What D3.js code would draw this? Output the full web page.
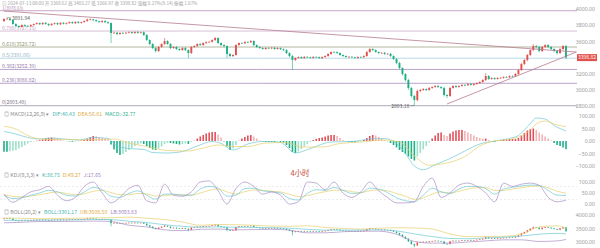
<!DOCTYPE html>
<html>
<head>
<meta charset="utf-8">
<script src="https://cdn.jsdelivr.net/npm/d3@7"></script>
<style>
  body { margin: 0; background: #fff; }
  svg { display: block; font-family: "Noto Sans CJK SC", "Noto Sans", sans-serif; }
</style>
</head>
<body>
<script>
// 4h candles, close prices (open = previous close)
const firstOpen = 3850;
const closes = [
  3876, 3880, 3864, 3814, 3789, 3777, 3802, 3791, 3786, 3802,
  3814, 3826, 3812, 3828, 3815, 3800, 3816, 3826, 3811, 3829,
  3817, 3826, 3839, 3824, 3841, 3828, 3838, 3851, 3870, 3872,
  3862, 3849, 3838, 3852, 3837, 3826, 3703, 3708, 3690, 3704,
  3699, 3707, 3715, 3702, 3717, 3705, 3713, 3678, 3616, 3567,
  3517, 3480, 3530, 3567, 3604, 3567, 3517, 3530, 3505, 3492,
  3517, 3492, 3455, 3530, 3542, 3567, 3554, 3579, 3590, 3594,
  3616, 3641, 3579, 3554, 3542, 3443, 3418, 3431, 3554, 3579,
  3576, 3592, 3589, 3604, 3554, 3530, 3517, 3505, 3518, 3512,
  3520, 3505, 3517, 3503, 3492, 3455, 3418, 3369, 3394, 3406,
  3392, 3408, 3403, 3394, 3407, 3404, 3392, 3406, 3418, 3443,
  3468, 3466, 3455, 3431, 3418, 3406, 3409, 3403, 3394, 3406,
  3404, 3418, 3468, 3505, 3492, 3468, 3455, 3458, 3443, 3446,
  3418, 3381, 3332, 3270, 3196, 3121, 3023, 2924, 2874, 2985,
  2998, 3010, 2998, 3023, 3035, 3047, 3035, 3023, 2936, 2924,
  3023, 3047, 3035, 3047, 3060, 3057, 3072, 3060, 3072, 3084,
  3097, 3121, 3171, 3134, 3146, 3134, 3146, 3149, 3159, 3156,
  3171, 3168, 3196, 3245, 3319, 3369, 3431, 3492, 3542, 3530,
  3480, 3530, 3554, 3530, 3505, 3480, 3455, 3505, 3542, 3398.82
];
const upWick = [
  8, 11.94, 10, 12, 9, 14, 8, 10, 12, 9,
  7, 10, 8, 9, 11, 8, 10, 7, 9, 8,
  10, 8, 7, 9, 6, 10, 8, 9, 10, 12,
  8, 9, 7, 10, 8, 9, 8, 14, 10, 9,
  12, 8, 10, 9, 7, 11, 8, 10, 12, 9,
  14, 10, 12, 9, 37, 10, 12, 9, 11, 8,
  10, 12, 9, 14, 10, 8, 11, 9, 10, 12,
  9, 12, 10, 8, 12, 9, 14, 10, 12, 9,
  8, 10, 9, 12, 10, 8, 9, 10, 8, 9,
  8, 10, 9, 7, 10, 12, 10, 14, 10, 9,
  8, 10, 9, 8, 10, 7, 9, 8, 10, 12,
  9, 10, 8, 10, 9, 8, 10, 9, 8, 10,
  9, 10, 12, 12, 9, 10, 8, 9, 10, 8,
  9, 10, 12, 14, 10, 12, 16, 14, 12, 20,
  14, 12, 10, 12, 10, 14, 12, 10, 12, 10,
  14, 12, 10, 9, 12, 10, 9, 12, 10, 9,
  10, 12, 37, 12, 10, 9, 12, 10, 8, 10,
  9, 10, 12, 14, 16, 12, 14, 12, 25, 14,
  12, 14, 12, 10, 12, 9, 10, 12, 12, 14
];
const downWick = [
  10, 9, 12, 10, 14, 9, 10, 8, 12, 9,
  10, 8, 11, 9, 10, 12, 8, 10, 9, 11,
  8, 10, 9, 8, 10, 9, 11, 8, 9, 10,
  12, 9, 10, 8, 11, 10, 124, 12, 14, 10,
  9, 12, 8, 10, 9, 12, 10, 14, 12, 16,
  14, 18, 12, 10, 14, 12, 16, 10, 14, 12,
  10, 12, 61, 12, 10, 12, 9, 10, 12, 9,
  10, 12, 14, 12, 16, 49, 14, 12, 10, 9,
  10, 8, 12, 10, 14, 12, 10, 9, 10, 8,
  9, 10, 8, 10, 12, 14, 16, 124, 12, 10,
  9, 8, 10, 9, 8, 10, 9, 8, 10, 9,
  10, 9, 12, 10, 9, 10, 8, 9, 10, 8,
  9, 10, 8, 10, 12, 9, 10, 8, 10, 9,
  12, 14, 16, 18, 20, 18, 24, 20, 70.82, 16,
  14, 12, 14, 10, 12, 10, 12, 14, 18, 25,
  12, 10, 12, 10, 9, 12, 10, 9, 10, 12,
  10, 12, 14, 12, 10, 12, 9, 10, 12, 9,
  10, 12, 10, 14, 12, 14, 16, 14, 12, 18,
  16, 14, 12, 14, 16, 14, 18, 12, 14, 16
];

// fibonacci retracement drawn on the chart
const fibRatios = [1, 0.786, 0.618, 0.5, 0.382, 0.236, 0];
const fibPrices = [3978.63, 3727.15, 3529.72, 3391.06, 3252.39, 3080.82, 2803.48];
// trend lines: [candle index, price]
const trendDown = [[0, 3975], [192.5, 3468]];
const trendUp = [[149, 2825], [192.5, 3468]];

// MACD(12,26,9)
const macdHist = [
  -43, -43, -41, -39, -36, -30, -24, -17, -10, -4,
  -1, 1, 3, 6, 10, 13, 14, 13, 10, 6,
  2, -1, -2, -3, -2, 0.5, 2, 4, 9, 15,
  20, 19, 16, 13, 10, 6, -14, -34, -48, -56,
  -52, -44, -36, -28, -20, -14, -10, -12, -20, -28,
  -34, -36, -30, -22, -12, -8, -8, -10, -12, -14,
  -12, -10, -12, -4, 2, 10, 18, 24, 30, 34,
  36, 36, 26, 14, -4, -22, -36, -30, -16, 2,
  10, 16, 22, 24, 18, 10, 2, -2, -4, -4,
  -4, -4, -3, -4, -6, -16, -28, -44, -48, -42,
  -32, -22, -12, -4, 4, 8, 12, 14, 18, 22,
  24, 24, 20, 12, 4, -2, -4, -5, -5, -4,
  -2, 4, 12, 20, 24, 22, 16, 10, 4, -2,
  -8, -16, -26, -36, -44, -52, -62, -72, -78, -62,
  -48, -34, -20, -6, 10, 22, 32, 34, 24, 20,
  30, 38, 42, 44, 44, 40, 34, 28, 22, 16,
  12, 10, 10, 4, -2, -4, 2, 4, 6, 6,
  8, 8, 8, 12, 22, 32, 42, 48, 50, 44,
  34, 26, 18, 10, 2, -8, -16, -20, -26, -32.77
];
const difPts = [[0, 38], [4, 28], [8, 14], [12, 8], [16, 12], [20, 8], [25, 4], [30, 14], [35, 10], [38, -20],
  [42, -30], [47, -34], [50, -46], [55, -48], [60, -42], [65, -20], [70, -2], [73, -10], [77, -36], [82, -12],
  [87, -2], [93, -6], [98, -48], [103, -30], [110, -4], [117, -2], [123, 8], [128, 10], [132, -10], [135, -50],
  [138, -100], [141, -115], [145, -95], [150, -70], [155, -40], [160, -12], [165, 0], [170, 10], [173, 22],
  [177, 70], [179, 92], [182, 88], [185, 62], [189, 40.43]];
const deaPts = [[0, 59], [4, 48], [8, 22], [12, 8], [16, 6], [20, 7], [25, 4], [32, 6], [37, 8], [42, -8],
  [48, -22], [55, -38], [62, -40], [67, -28], [72, -16], [77, -22], [82, -22], [88, -8], [95, -6], [100, -24],
  [107, -24], [113, -10], [120, -4], [128, 4], [133, -4], [138, -60], [143, -97], [148, -90], [150, -85],
  [155, -62], [160, -20], [165, 0], [170, 6], [177, 44], [179, 68], [182, 80], [185, 68], [189, 56.81]];

// KDJ(9,3,3), one value every 3 candles
const kdjStep = 3;
const kValues = [40, 25, 28, 40, 50, 62, 55, 40, 36, 55, 75, 65, 35, 30, 48, 60, 40, 22, 45, 45, 40, 40,
  68, 80, 72, 35, 40, 70, 72, 60, 55, 50, 25, 18, 48, 65, 62, 75, 62, 48, 50, 72, 68, 52, 28, 15, 10,
  40, 72, 55, 48, 68, 80, 80, 70, 45, 68, 76, 82, 86, 84, 62, 40, 38.75];
const dValues = [42, 35, 32, 36, 42, 50, 54, 48, 42, 46, 58, 62, 52, 42, 42, 48, 46, 36, 38, 42, 42, 40,
  50, 62, 68, 55, 46, 56, 64, 62, 58, 55, 44, 34, 38, 48, 56, 62, 63, 56, 52, 60, 64, 60, 48, 35, 22,
  28, 45, 55, 50, 58, 68, 74, 74, 62, 62, 68, 74, 80, 82, 74, 58, 49.27];
const jValues = [45, 8, 30, 55, 65, 80, 40, 15, 30, 80, 100, 50, 5, 30, 70, 85, 15, 5, 90, 40, 35, 55,
  100, 105, 60, 0, 70, 100, 80, 45, 55, 40, 0, 10, 100, 95, 65, 100, 50, 30, 55, 100, 60, 30, 5, 5, 10,
  80, 118, 30, 50, 86, 95, 80, 50, 10, 95, 80, 90, 95, 85, 30, 10, 17.65];

// BOLL(20,2), one value every 6 candles (last one is the final candle)
const bollIdx = [0, 6, 12, 18, 24, 30, 36, 42, 48, 54, 60, 66, 72, 78, 84, 90, 96, 102, 108, 114,
  120, 126, 132, 138, 144, 150, 156, 162, 168, 174, 180, 186, 189];
const bollMid = [3800, 3805, 3810, 3815, 3820, 3835, 3830, 3770, 3720, 3640, 3580, 3550, 3560, 3545,
  3540, 3530, 3510, 3470, 3440, 3440, 3440, 3450, 3410, 3300, 3200, 3130, 3120, 3150, 3180, 3220,
  3290, 3320, 3301.17];
const bollUp = [3890, 3880, 3860, 3870, 3880, 3895, 3900, 3920, 3880, 3830, 3740, 3620, 3650, 3640,
  3620, 3590, 3580, 3600, 3540, 3500, 3480, 3510, 3530, 3520, 3480, 3300, 3200, 3200, 3210, 3290,
  3560, 3600, 3508.50];
const bollLow = [3710, 3730, 3760, 3760, 3765, 3775, 3760, 3620, 3560, 3450, 3420, 3470, 3480, 3450,
  3460, 3470, 3440, 3340, 3340, 3380, 3400, 3400, 3290, 3020, 2960, 2960, 3000, 3040, 3080, 3080,
  3020, 3040, 3093.83];

// 3400.00 sits under the last-price tag in the picture
const mainTicks = [4000, 3800, 3600, 3200, 3000, 2800];
const macdTicks = [100, 50, 0, -50, -100];
const kdjTicks = [100, 50, 0];
const bollTicks = [4000, 3500, 3000];

const width = 600;
const height = 248;
const upColor = "#e2504c";
const downColor = "#1fae84";

const svg = d3
  .select("body")
  .append("svg")
  .attr("width", width)
  .attr("height", height);

const candles = closes.map((c, i) => {
  const o = i === 0 ? firstOpen : closes[i - 1];
  return { i, o, c, h: Math.max(o, c) + upWick[i], l: Math.min(o, c) - downWick[i] };
});

const x = d3.scaleLinear().domain([0, closes.length - 1]).range([4, 566]);
const yMain = d3.scaleLinear().domain([2800, 4000]).range([106, 9]);
const yMacd = d3.scaleLinear().domain([-100, 100]).range([166, 116]);
const yKdj = d3.scaleLinear().domain([0, 100]).range([204, 182]);
const yBoll = d3.scaleLinear().domain([3000, 4000]).range([242, 215]);

function drawAxis(scale, ticks) {
  const g = svg
    .append("g")
    .attr("transform", "translate(595,0)")
    .call(d3.axisLeft(scale).tickValues(ticks).tickSize(0).tickPadding(0).tickFormat(d3.format(".2f")));
  g.select(".domain").remove();
  g.selectAll("text").attr("fill", "#9a9a9a").attr("font-size", 5.2).attr("font-family", "Noto Sans, sans-serif");
}

function drawCandles(yScale, bw) {
  const g = svg.append("g");
  g.selectAll("line")
    .data(candles)
    .enter()
    .append("line")
    .attr("x1", (d) => x(d.i))
    .attr("x2", (d) => x(d.i))
    .attr("y1", (d) => yScale(d.h))
    .attr("y2", (d) => yScale(d.l))
    .attr("stroke", (d) => (d.c >= d.o ? upColor : downColor))
    .attr("stroke-width", 0.6);
  g.selectAll("rect")
    .data(candles)
    .enter()
    .append("rect")
    .attr("x", (d) => x(d.i) - bw / 2)
    .attr("y", (d) => yScale(Math.max(d.o, d.c)))
    .attr("width", bw)
    .attr("height", (d) => Math.max(0.6, Math.abs(yScale(d.o) - yScale(d.c))))
    .attr("fill", (d) => (d.c >= d.o ? upColor : downColor));
}

function drawLine(pts, yScale, color, w) {
  svg
    .append("path")
    .datum(pts)
    .attr("fill", "none")
    .attr("stroke", color)
    .attr("stroke-width", w || 0.7)
    .attr("d", d3.line().x((d) => x(d[0])).y((d) => yScale(d[1])).curve(d3.curveMonotoneX));
}

function legend(y, parts) {
  const t = svg.append("text").attr("x", 4).attr("y", y).attr("font-size", 5.2);
  parts.forEach((p) => t.append("tspan").attr("fill", p[1]).attr("dx", p[2] || 0).text(p[0]));
}

// ---------- header ----------
svg
  .append("text")
  .attr("x", 2)
  .attr("y", 5)
  .attr("font-size", 4.6)
  .attr("fill", "#a0a0a0")
  .text("⊙ 2024-07-13 00:00  开 3369.62  高 3403.27  低 3366.97  收 3398.82  涨幅 0.27%(9.14)  振幅 1.07%");

// ---------- main panel ----------
const fibColors = ["#b791b4", "#cdb0cc", "#9fa383", "#a6cfe0", "#a68bbb", "#a68bbb", "#9b93a3"];
const fibText = ["#b08aae", "#c3a3c1", "#8f9470", "#8fb4c6", "#9478ab", "#9478ab", "#7d7585"];
fibPrices.forEach((p, k) => {
  svg
    .append("line")
    .attr("x1", 0)
    .attr("x2", 577)
    .attr("y1", yMain(p))
    .attr("y2", yMain(p))
    .attr("stroke", fibColors[k])
    .attr("stroke-width", 0.8);
  svg
    .append("text")
    .attr("x", 2)
    .attr("y", yMain(p) - (k === 0 ? 0.6 : 1.4))
    .attr("font-size", k === 0 ? 4.4 : 5)
    .attr("fill", fibText[k])
    .text(fibRatios[k] + "(" + p.toFixed(2) + ")");
});

drawAxis(yMain, mainTicks);
drawCandles(yMain, 1.9);

[trendDown, trendUp].forEach((t) => {
  svg
    .append("line")
    .attr("x1", x(t[0][0]))
    .attr("y1", yMain(t[0][1]))
    .attr("x2", x(t[1][0]))
    .attr("y2", yMain(t[1][1]))
    .attr("stroke", "#b67b90")
    .attr("stroke-width", 0.8);
});

// highest / lowest markers
const hi = candles.reduce((a, b) => (b.h > a.h ? b : a));
const lo = candles.reduce((a, b) => (b.l < a.l ? b : a));
svg.append("line").attr("x1", x(hi.i)).attr("x2", x(hi.i) + 4).attr("y1", yMain(hi.h)).attr("y2", yMain(hi.h)).attr("stroke", "#666").attr("stroke-width", 0.5);
svg.append("text").attr("x", x(hi.i) + 5).attr("y", yMain(hi.h) + 1.8).attr("font-size", 5).attr("fill", "#555").text(hi.h.toFixed(2));
svg.append("line").attr("x1", x(lo.i) - 4).attr("x2", x(lo.i)).attr("y1", yMain(lo.l)).attr("y2", yMain(lo.l)).attr("stroke", "#666").attr("stroke-width", 0.5);
svg.append("text").attr("x", x(lo.i) - 5).attr("y", yMain(lo.l) + 1.8).attr("text-anchor", "end").attr("font-size", 5).attr("fill", "#555").text(lo.l.toFixed(2));

// last price tag
const last = closes[closes.length - 1];
svg.append("rect").attr("x", 577).attr("y", yMain(last) - 3.5).attr("width", 20).attr("height", 7).attr("fill", "#e2504c");
svg.append("text").attr("x", 587).attr("y", yMain(last) + 1.8).attr("text-anchor", "middle").attr("font-size", 5).attr("fill", "#fff").text(last.toFixed(2));

// ---------- MACD ----------
legend(115.5, [
  ["◎ MACD(12,26,9)  ▾", "#8a8a8a"],
  ["DIF:" + difPts[difPts.length - 1][1].toFixed(2), "#3fb6b0", 3],
  ["DEA:" + deaPts[deaPts.length - 1][1].toFixed(2), "#e0a93a", 3],
  ["MACD:" + macdHist[macdHist.length - 1].toFixed(2), "#2fb08c", 3],
]);
drawAxis(yMacd, macdTicks);
svg
  .append("g")
  .selectAll("rect")
  .data(macdHist)
  .enter()
  .append("rect")
  .attr("x", (d, i) => x(i) - 0.8)
  .attr("y", (d) => Math.min(yMacd(d), yMacd(0)))
  .attr("width", 1.6)
  .attr("height", (d) => Math.max(0.4, Math.abs(yMacd(d) - yMacd(0))))
  .attr("fill", (d, i) => {
    const growing = i === 0 || Math.abs(d) >= Math.abs(macdHist[i - 1]);
    if (d >= 0) return growing ? "#e0525a" : "#f2b3b8";
    return growing ? "#1fb088" : "#9fe0cb";
  });
drawLine(difPts, yMacd, "#6cc8d2");
drawLine(deaPts, yMacd, "#e6cf6a");

svg.append("text").attr("x", 300).attr("y", 176).attr("text-anchor", "middle").attr("font-size", 7.5).attr("fill", "#c24d43").text("4小时");

// ---------- KDJ ----------
legend(176.5, [
  ["◎ KDJ(9,3,3)  ▾", "#8a8a8a"],
  ["K:" + kValues[kValues.length - 1].toFixed(2), "#3fb6b0", 3],
  ["D:" + dValues[dValues.length - 1].toFixed(2), "#e0a93a", 3],
  ["J:" + jValues[jValues.length - 1].toFixed(2), "#a27cc0", 3],
]);
drawAxis(yKdj, kdjTicks);
[80, 20].forEach((v) => {
  svg.append("line").attr("x1", 0).attr("x2", 577).attr("y1", yKdj(v)).attr("y2", yKdj(v)).attr("stroke", "#d6d6d6").attr("stroke-width", 0.5).attr("stroke-dasharray", "2,2");
});
const toPts = (vals, step) => vals.map((v, k) => [Math.min(k * step, closes.length - 1), v]);
drawLine(toPts(dValues, kdjStep), yKdj, "#e6cf6a");
drawLine(toPts(kValues, kdjStep), yKdj, "#6cc8d2");
drawLine(toPts(jValues, kdjStep), yKdj, "#a98cc4");

// ---------- BOLL ----------
legend(213.5, [
  ["◎ BOLL(20,2)  ▾", "#8a8a8a"],
  ["BOLL:" + bollMid[bollMid.length - 1].toFixed(2), "#3fb6b0", 3],
  ["UB:" + bollUp[bollUp.length - 1].toFixed(2), "#e0a93a", 3],
  ["LB:" + bollLow[bollLow.length - 1].toFixed(2), "#a27cc0", 3],
]);
drawAxis(yBoll, bollTicks);
drawCandles(yBoll, 1.4);
drawLine(bollIdx.map((i, k) => [i, bollUp[k]]), yBoll, "#e6cf6a");
drawLine(bollIdx.map((i, k) => [i, bollMid[k]]), yBoll, "#6cc8d2");
drawLine(bollIdx.map((i, k) => [i, bollLow[k]]), yBoll, "#a98cc4");
</script>
</body>
</html>
